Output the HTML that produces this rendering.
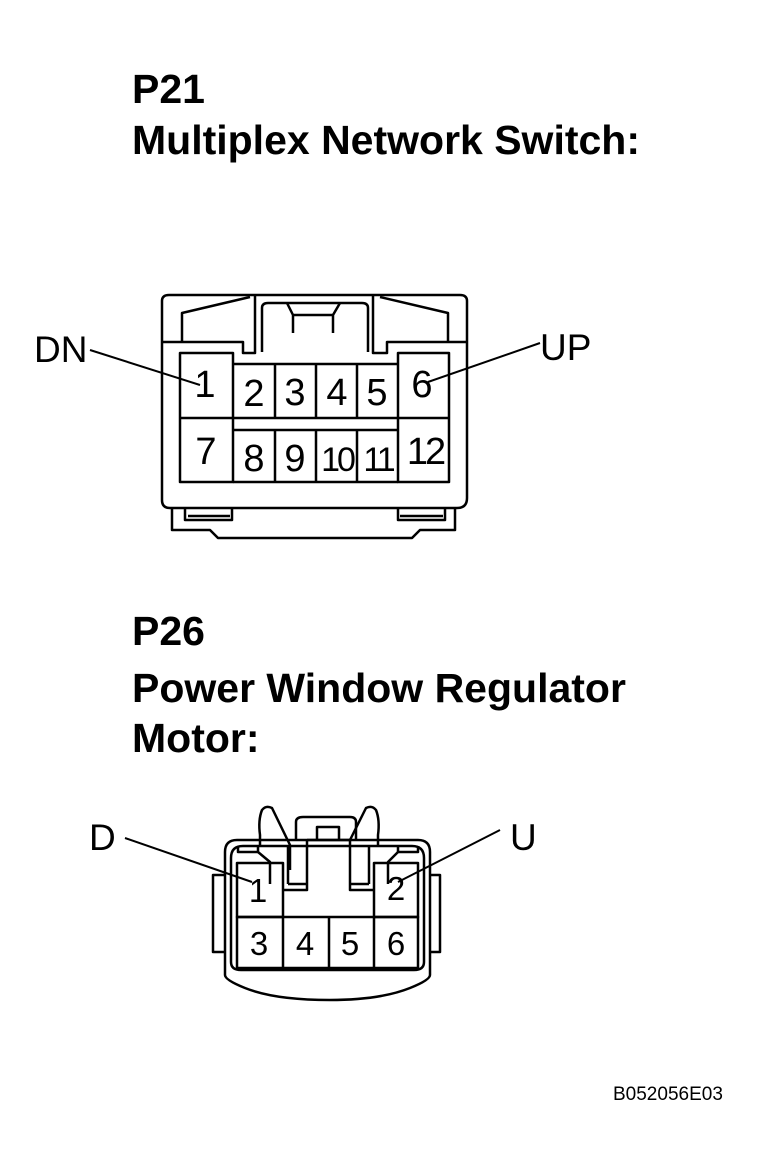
<!DOCTYPE html>
<html><head><meta charset="utf-8"><style>
html,body{margin:0;padding:0;background:#fff;}
svg{display:block;}
text{font-family:"Liberation Sans",Arial,sans-serif;fill:#000;}
.t{font-weight:bold;font-size:41px;}
.n{font-size:38px;text-anchor:middle;}
.m{font-size:33px;text-anchor:middle;}
.l{font-size:37px;}
</style></head><body>
<svg width="767" height="1175" viewBox="0 0 767 1175" xmlns="http://www.w3.org/2000/svg">
<rect width="767" height="1175" fill="#fff"/>
<text class="t" x="132" y="103">P21</text>
<text class="t" x="132" y="154">Multiplex Network Switch:</text>
<text class="t" x="132" y="645">P26</text>
<text class="t" x="132" y="702">Power Window Regulator</text>
<text class="t" x="132" y="752">Motor:</text>
<text x="613" y="1100" style="font-size:19px">B052056E03</text>

<g fill="none" stroke="#000" stroke-width="2.5" stroke-linejoin="round">
<path d="M162,500 V301 Q162,295 169,295 H460 Q467,295 467,301 V498 Q467,508 457,508 H170 Q162,508 162,500 Z"/>
<path d="M182,342 V313 L250,297 M448,342 V313 L380,297"/>
<path d="M163,342 H243 V353 H255 V295 M373,295 V353 H387 V342 H466"/>
<path d="M262,352 V308 Q262,303 268,303 H362 Q368,303 368,308 V352"/>
<path d="M287,303 L293,315 V333 M340,303 L333,315 V333 M293,315 H333"/>
<path d="M172,508 V530 H210 L218,538 H412 L420,530 H455 V508"/>
<path d="M185,508 V520 H232 V508 M398,508 V520 H445 V508 M188,516 H230 M400,516 H443"/>
<rect x="180" y="353" width="53" height="129"/>
<rect x="398" y="353" width="51" height="129"/>
<path d="M180,418 H233 M398,418 H449"/>
<path d="M233,364 H398 M233,418 H398 M233,430 H398 M275,364 V418 M316,364 V418 M357,364 V418 M275,430 V482 M316,430 V482 M357,430 V482 M233,482 H398"/>

<path d="M225,852 Q225,840 237,840 H418 Q430,840 430,852 V975 Q430,980 410,988 Q380,1000 330,1000 Q275,1000 245,988 Q225,980 225,975 Z"/>
<path d="M231,858 Q231,846 243,846 H412 Q424,846 424,858 V962 Q424,970 414,970 H241 Q231,970 231,962 Z"/>
<path d="M225,875 H213 V952 H225 M430,875 H440 V952 H430"/>
<rect x="237" y="863" width="46" height="54"/>
<rect x="374" y="863" width="44" height="54"/>
<path d="M237,917 H418 V968 H237 Z M283,917 V968 M329,917 V968 M374,917 V968"/>
<path d="M283,890 H307 V840 M374,890 H350 V840"/>
<path d="M288,884 V845 M369,884 V845 M288,884 H307 M369,884 H350"/>
<path d="M296,840 V822 Q296,817 303,817 H350 Q356,817 356,822 V840"/>
<path d="M307,840 H350 M317,840 V827 H339 V840"/>
<path d="M260,846 V835 Q258,820 262,810 Q266,805 272,808 L290,845 V870 M378,846 V835 Q380,820 376,810 Q372,805 366,808 L350,840"/>
<path d="M238,846 V852 H258 V846 M398,846 V852 H418 V846"/>
<path d="M258,852 L270,862 V884 M398,852 L388,862 V884"/>
</g>

<g stroke="#000" stroke-width="2">
<line x1="90" y1="350" x2="200" y2="385"/>
<line x1="540" y1="343" x2="428" y2="382"/>
<line x1="125" y1="838" x2="252" y2="882"/>
<line x1="500" y1="830" x2="398" y2="882"/>
</g>

<text class="l" x="34" y="362">DN</text>
<text class="l" x="540" y="360">UP</text>
<text class="l" x="89" y="850">D</text>
<text class="l" x="510" y="850">U</text>

<text class="n" x="205" y="397">1</text>
<text class="n" x="254" y="406">2</text>
<text class="n" x="295" y="405">3</text>
<text class="n" x="337" y="405">4</text>
<text class="n" x="377" y="405">5</text>
<text class="n" x="422" y="397">6</text>
<text class="n" x="206" y="464">7</text>
<text class="n" x="254" y="471">8</text>
<text class="n" x="295" y="471">9</text>
<text class="n" x="337" y="471" style="letter-spacing:-3px;font-size:34px">10</text>
<text class="n" x="378" y="471" style="letter-spacing:-3px;font-size:34px">11</text>
<text class="n" x="425" y="464" style="letter-spacing:-3px">12</text>
<text class="m" x="258" y="902">1</text>
<text class="m" x="396" y="900">2</text>
<text class="m" x="259" y="955">3</text>
<text class="m" x="305" y="955">4</text>
<text class="m" x="350" y="955">5</text>
<text class="m" x="396" y="955">6</text>
</svg>
</body></html>
